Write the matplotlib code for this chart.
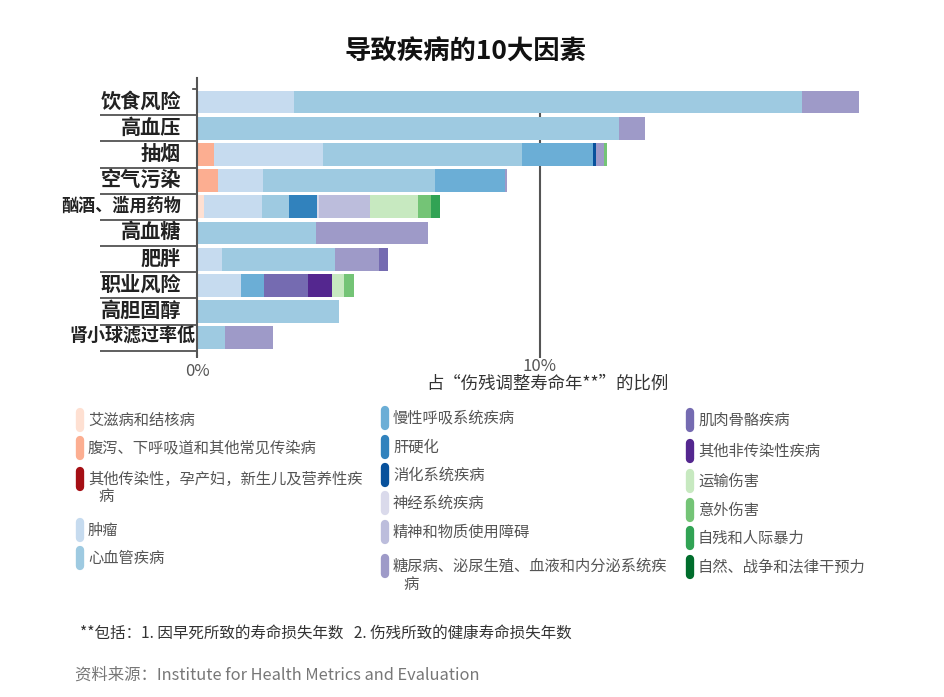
import numpy as np
import matplotlib
matplotlib.use("Agg")
import matplotlib.pyplot as plt

plt.rcParams['font.family'] = ['Noto Sans CJK SC', 'DejaVu Sans']

# 风险因素（从上到下）
risks = ["饮食风险", "高血压", "抽烟", "空气污染", "酗酒、滥用药物",
         "高血糖", "肥胖", "职业风险", "高胆固醇", "肾小球滤过率低"]

# 疾病类别（图例顺序，也是堆叠顺序）
causes = ["艾滋病和结核病", "腹泻、下呼吸道和其他常见传染病",
          "其他传染性，孕产妇，新生儿及营养性疾病", "肿瘤", "心血管疾病",
          "慢性呼吸系统疾病", "肝硬化", "消化系统疾病", "神经系统疾病",
          "精神和物质使用障碍", "糖尿病、泌尿生殖、血液和内分泌系统疾病",
          "肌肉骨骼疾病", "其他非传染性疾病", "运输伤害", "意外伤害",
          "自残和人际暴力", "自然、战争和法律干预力"]
colors = ["#fee0d2", "#fcae91", "#a50f15", "#c6dbef", "#9ecae1",
          "#6baed6", "#3182bd", "#08519c", "#dadaeb", "#bcbddc",
          "#9e9ac8", "#756bb1", "#54278f", "#c7e9c0", "#74c476",
          "#31a354", "#006d2c"]

# 各疾病在每个风险因素中的占比 (%)
aids       = [0, 0, 0, 0, 0.2, 0, 0, 0, 0, 0]
diarrhea   = [0, 0, 0.5, 0.6, 0, 0, 0, 0, 0, 0]
other_inf  = [0, 0, 0, 0, 0, 0, 0, 0, 0, 0]
tumor      = [2.83, 0, 3.16, 1.33, 1.7, 0, 0.74, 1.27, 0, 0]
cardio     = [14.8, 12.31, 5.81, 5.01, 0.79, 3.47, 3.29, 0, 4.13, 0.83]
resp       = [0, 0, 2.08, 2.04, 0, 0, 0, 0.67, 0, 0]
cirrhosis  = [0, 0, 0, 0, 0.82, 0, 0, 0, 0, 0]
digestive  = [0, 0, 0.07, 0, 0, 0, 0, 0, 0, 0]
neuro      = [0, 0, 0, 0, 0.06, 0, 0, 0, 0, 0]
mental     = [0, 0, 0, 0, 1.47, 0, 0, 0, 0, 0]
diabetes   = [1.68, 0.76, 0.25, 0.07, 0, 3.26, 1.27, 0, 0, 1.38]
musculo    = [0, 0, 0, 0, 0, 0, 0.26, 1.31, 0, 0]
other_ncd  = [0, 0, 0, 0, 0, 0, 0, 0.69, 0, 0]
transport  = [0, 0, 0, 0, 1.41, 0, 0, 0.35, 0, 0]
accident   = [0, 0, 0.07, 0, 0.38, 0, 0, 0.29, 0, 0]
selfharm   = [0, 0, 0, 0, 0.25, 0, 0, 0, 0, 0]
war        = [0, 0, 0, 0, 0, 0, 0, 0, 0, 0]

series = [aids, diarrhea, other_inf, tumor, cardio, resp, cirrhosis, digestive,
          neuro, mental, diabetes, musculo, other_ncd, transport, accident,
          selfharm, war]

fig = plt.figure(figsize=(9.45, 6.97), dpi=100)
ax = fig.add_axes([197/945, 1-355/697, 686/945, 277/697])

y = np.arange(len(risks))
left = np.zeros(len(risks))
for vals, c in zip(series, colors):
    vals = np.array(vals)
    ax.barh(y, vals, left=left, height=0.87, color=c, linewidth=0, zorder=2)
    left += vals

ax.set_xlim(0, 20)
ax.set_ylim(9.66, -0.92)

# 10% 参考线
ax.vlines(10, 0, 9.66, color="#555555", lw=1.5, zorder=1)

for s in ["top", "right", "bottom"]:
    ax.spines[s].set_visible(False)
ax.spines["left"].set_color("#555555")
ax.spines["left"].set_linewidth(1.5)

ax.set_xticks([0, 10])
ax.set_xticklabels(["0%", "10%"])
ax.tick_params(axis="x", length=2, width=1.5, color="#555555", pad=0,
               labelsize=12, labelcolor="#555555")
ax.get_xticklabels()[0].set_y(-0.02)

ax.set_yticks(y)
ax.set_yticklabels([])
ax.tick_params(axis="y", which="major", length=0)
ax.set_yticks(y + 0.5, minor=True)
ax.tick_params(axis="y", which="minor", length=70, width=1.2, color="#444444")
ax.plot([-0.12, 0], [-0.5, -0.5], color="#444444", lw=1.2, clip_on=False)

label_sizes = [14.5, 14.5, 14.5, 14.5, 12.3, 14.5, 14.5, 14.5, 14.5, 13]
label_right = [-0.47, -0.47, -0.47, -0.47, -0.45, -0.47, -0.47, -0.47, -0.47, -0.06]
for i, (r, fs, xr) in enumerate(zip(risks, label_sizes, label_right)):
    ax.text(xr, i - 0.05, r, ha="right", va="center", fontsize=fs,
            fontweight="bold", color="#222222", clip_on=False)

fig.text(466/945, 1-52/697, "导致疾病的10大因素", ha="center", va="center",
         fontsize=19, fontweight="bold", color="#111111")
fig.text(547/945, 1-384/697, "占“伤残调整寿命年**”的比例", ha="center",
         va="center", fontsize=12.5, color="#333333")

# 图例（像素坐标叠加层）
ov = fig.add_axes([0, 0, 1, 1], zorder=-1)
ov.set_xlim(0, 945)
ov.set_ylim(697, 0)
ov.axis("off")

col_x = [80, 385, 690]
col_rows = [[420, 448, 479, 530, 558],
            [418, 447, 475, 503, 532, 566],
            [420, 451, 481, 510, 538, 567]]
k = 0
for cx, rows in zip(col_x, col_rows):
    for ry in rows:
        ov.plot([cx, cx], [ry - 8, ry + 8], color=colors[k], lw=6,
                solid_capstyle="round")
        name = causes[k]
        if len(name) > 17:
            ov.text(cx + 8, ry, name[:-1], ha="left", va="center",
                    fontsize=11, color="#555555")
            ov.text(cx + 18, ry + 18, name[-1], ha="left", va="center",
                    fontsize=11, color="#555555")
        else:
            ov.text(cx + 8, ry, name, ha="left", va="center",
                    fontsize=11, color="#555555")
        k += 1

fig.text(80/945, 1-633/697, "**包括：1. 因早死所致的寿命损失年数   2. 伤残所致的健康寿命损失年数",
         ha="left", va="center", fontsize=11.2, color="#333333")
fig.text(75/945, 1-675/697, "资料来源：Institute for Health Metrics and Evaluation",
         ha="left", va="center", fontsize=11.8, color="#777777")

fig.savefig("out.png", dpi=100)
